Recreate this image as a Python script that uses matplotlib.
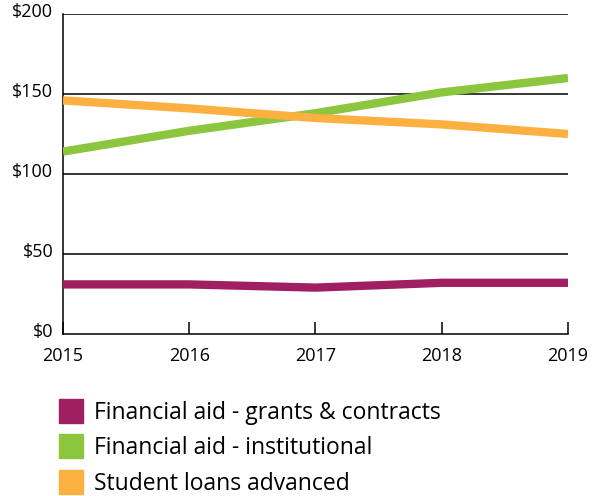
import matplotlib
matplotlib.use("Agg")
import matplotlib.pyplot as plt
from matplotlib.lines import Line2D

plt.rcParams['font.family'] = ['Open Sans', 'DejaVu Sans']

# Data
years = [2015, 2016, 2017, 2018, 2019]
grants = [31, 31, 29, 32, 32]
institutional = [114, 127, 138, 151, 160]
loans = [146, 141, 135, 131, 125]

labels = ["Financial aid - grants & contracts",
          "Financial aid - institutional",
          "Student loans advanced"]
colors = ["#a01f62", "#8cc63f", "#fbb040"]
yticks = [0, 50, 100, 150, 200]
ytick_labels = ["$0", "$50", "$100", "$150", "$200"]

fig = plt.figure(figsize=(5.96, 4.96), dpi=100)
ax = fig.add_axes([0.1057, 0.3266, 0.8473, 0.6452])

for y in yticks[1:]:
    ax.axhline(y, color="black", lw=1.1, zorder=1)

for vals, c in zip([grants, institutional, loans], colors):
    ax.plot(years, vals, color=c, lw=6, solid_capstyle="butt", zorder=3)

ax.set_xlim(2015, 2019)
ax.set_ylim(0, 200)
ax.set_xticks(years)
ax.set_xticklabels([str(y) for y in years], fontsize=13)
ax.set_yticks(yticks)
ax.set_yticklabels(ytick_labels, fontsize=13)
for t in ax.get_yticklabels():
    t.set_y(t.get_position()[1])
ax.tick_params(axis="x", direction="in", length=9, width=1.1, pad=9)
ax.tick_params(axis="y", length=0, pad=7)
# nudge y labels up a little, like the reference
import matplotlib.transforms as mtrans
offset = mtrans.ScaledTranslation(0, 3 / 72, fig.dpi_scale_trans)
for t in ax.get_yticklabels():
    t.set_transform(t.get_transform() + offset)
for s in ["top", "right"]:
    ax.spines[s].set_visible(False)
for s in ["left", "bottom"]:
    ax.spines[s].set_linewidth(1.1)

handles = [Line2D([], [], marker="s", linestyle="none", markersize=17,
                  markerfacecolor=c, markeredgecolor=c) for c in colors]
fig.legend(handles, labels, loc="upper left", bbox_to_anchor=(0.085, 0.21),
           frameon=False, fontsize=16.5, handlelength=1.0, handletextpad=0.5,
           labelspacing=0.5, borderaxespad=0)

fig.savefig("out.png", dpi=100)
